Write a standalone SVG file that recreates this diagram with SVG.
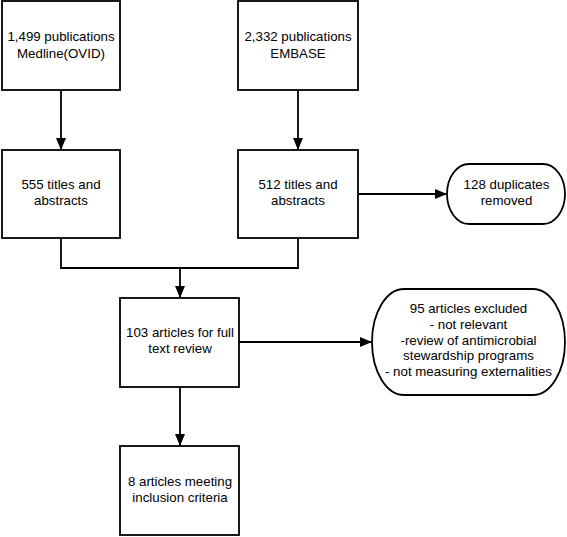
<svg xmlns="http://www.w3.org/2000/svg" width="567" height="537" viewBox="0 0 567 537">
<style>
.box{fill:#fff;stroke:#000;stroke-width:1.8}
.ln{fill:none;stroke:#000;stroke-width:1.8}
text{font-family:"Liberation Sans",Arial,sans-serif;font-size:13.3px;fill:#000;text-anchor:middle}
</style>
<defs>
<marker id="ah" markerWidth="12" markerHeight="10" refX="11" refY="5" orient="auto" markerUnits="userSpaceOnUse">
<path d="M0,0 L12,5 L0,10 Z" fill="#000"/>
</marker>
</defs>
<rect width="567" height="537" fill="#fff"/>
<g id="connectors">
<line class="ln" x1="61" y1="90" x2="61" y2="149" marker-end="url(#ah)"/>
<line class="ln" x1="298" y1="90" x2="298" y2="149" marker-end="url(#ah)"/>
<polyline class="ln" points="61,238 61,268 298,268 298,238"/>
<line class="ln" x1="180" y1="268" x2="180" y2="297" marker-end="url(#ah)"/>
<line class="ln" x1="358" y1="194" x2="446" y2="194" marker-end="url(#ah)"/>
<line class="ln" x1="239" y1="342" x2="371" y2="342" marker-end="url(#ah)"/>
<line class="ln" x1="180" y1="387" x2="180" y2="445" marker-end="url(#ah)"/>
</g>
<g id="medline">
<rect class="box" x="2" y="1" width="118" height="89"/>
<text x="61" y="41">1,499 publications</text>
<text x="61" y="57.5">Medline(OVID)</text>
</g>
<g id="embase">
<rect class="box" x="238" y="1" width="120" height="89"/>
<text x="298" y="41">2,332 publications</text>
<text x="298" y="57.5">EMBASE</text>
</g>
<g id="titles555">
<rect class="box" x="2" y="150" width="118" height="88"/>
<text x="61" y="189">555 titles and</text>
<text x="61" y="205">abstracts</text>
</g>
<g id="titles512">
<rect class="box" x="238" y="150" width="120" height="88"/>
<text x="298" y="189">512 titles and</text>
<text x="298" y="205">abstracts</text>
</g>
<g id="duplicates">
<rect class="box" x="447" y="164" width="118" height="60" rx="22" ry="30"/>
<text x="506.5" y="189">128 duplicates</text>
<text x="506.5" y="204.5">removed</text>
</g>
<g id="fulltext">
<rect class="box" x="120" y="298" width="119" height="89"/>
<text x="180" y="337">103 articles for full</text>
<text x="180" y="353">text review</text>
</g>
<g id="excluded">
<rect class="box" x="372" y="289" width="193" height="106" rx="32" ry="53"/>
<text x="468.5" y="313">95 articles excluded</text>
<text x="468.5" y="328.5">- not relevant</text>
<text x="468.5" y="344.5">-review of antimicrobial</text>
<text x="468.5" y="360">stewardship programs</text>
<text x="468.5" y="376">- not measuring externalities</text>
</g>
<g id="included">
<rect class="box" x="120" y="446" width="119" height="89"/>
<text x="180" y="485.5">8 articles meeting</text>
<text x="180" y="501.5">inclusion criteria</text>
</g>
</svg>
